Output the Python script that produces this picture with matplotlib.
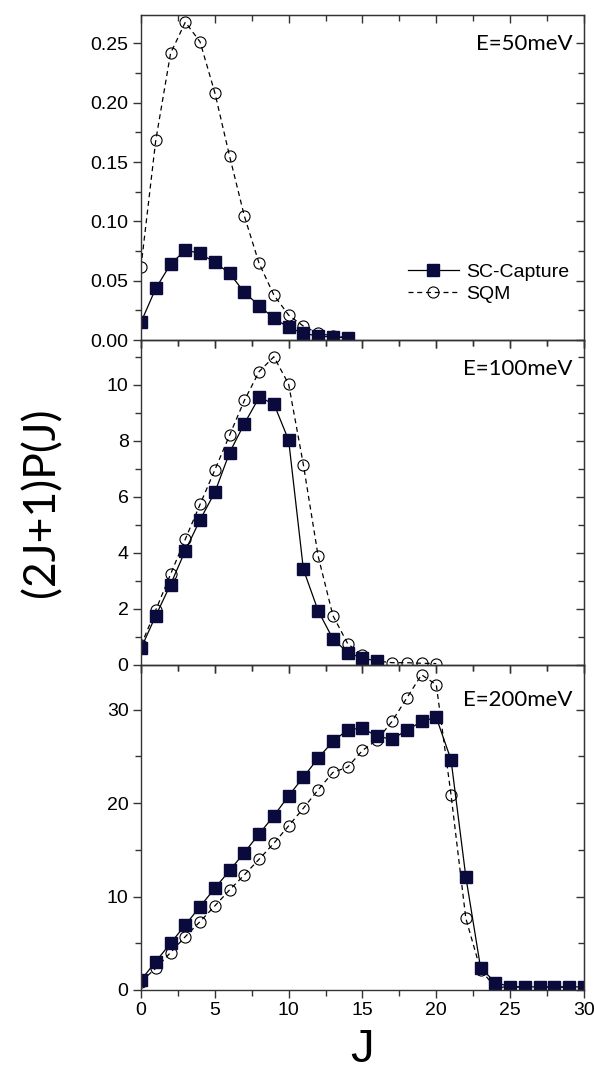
import matplotlib
matplotlib.use("Agg")
import matplotlib.pyplot as plt
from matplotlib.ticker import MultipleLocator, FormatStrFormatter
from matplotlib.lines import Line2D

# data, J = 0, 1, 2, ...
j_50 = list(range(0, 15))
sc_50 = [0.015, 0.0436, 0.0638, 0.0759, 0.073, 0.0655, 0.0562, 0.0402,
         0.029, 0.0183, 0.0107, 0.0056, 0.0034, 0.0025, 0.002]
sqm_50 = [0.0618, 0.1685, 0.2416, 0.268, 0.2514, 0.2085, 0.155, 0.1045,
          0.0646, 0.0379, 0.021, 0.0117, 0.0056, 0.0034, 0.002]

j_100_sc = list(range(0, 17))
sc_100 = [0.59, 1.76, 2.87, 4.08, 5.18, 6.16, 7.58, 8.61, 9.55, 9.32,
          8.02, 3.41, 1.93, 0.93, 0.44, 0.24, 0.14]
j_100_sqm = list(range(0, 21))
sqm_100 = [0.7, 1.96, 3.24, 4.49, 5.73, 6.96, 8.2, 9.44, 10.47, 11.0,
           10.02, 7.14, 3.88, 1.76, 0.76, 0.34, 0.14, 0.08, 0.08, 0.06, 0.05]

j_200 = list(range(0, 31))
sc_200 = [1.07, 3.04, 5.0, 6.96, 8.93, 10.89, 12.79, 14.71, 16.71, 18.64,
          20.79, 22.79, 24.82, 26.61, 27.86, 28.04, 27.14, 26.86, 27.79, 28.75,
          29.18, 24.64, 12.14, 2.39, 0.79, 0.36, 0.33, 0.33, 0.33, 0.33, 0.33]
sqm_200 = [0.9, 2.32, 4.0, 5.71, 7.32, 9.0, 10.71, 12.32, 14.0, 15.71,
           17.57, 19.46, 21.43, 23.29, 23.86, 25.64, 26.79, 28.75, 31.25, 33.75,
           32.68, 20.89, 7.68, 2.14, 0.3, 0.3, 0.3, 0.3, 0.3, 0.3, 0.3]

labels = ["E=50meV", "E=100meV", "E=200meV"]

SQ_COLOR = "#0a0a3c"
SPINE = "#333333"


def style_panel(ax, ymax, ymajor, yminor, fmt, show_x):
    ax.patch.set_visible(False)
    ax.set_xlim(0, 30)
    ax.set_ylim(0, ymax)
    ax.xaxis.set_major_locator(MultipleLocator(5))
    ax.xaxis.set_minor_locator(MultipleLocator(2.5))
    ax.yaxis.set_major_locator(MultipleLocator(ymajor))
    ax.yaxis.set_minor_locator(MultipleLocator(yminor))
    ax.yaxis.set_major_formatter(FormatStrFormatter(fmt))
    for s in ax.spines.values():
        s.set_color(SPINE)
        s.set_linewidth(1.0)
    ax.tick_params(which="both", direction="out", top=False, right=False,
                   color=SPINE, labelsize=14, pad=3,
                   labelbottom=show_x)
    ax.tick_params(which="major", length=6, width=1)
    ax.tick_params(which="minor", length=4, width=1)
    for lab in ax.get_xticklabels() + ax.get_yticklabels():
        lab.set_fontfamily("Liberation Sans")

    # inward ticks on top and right
    top = ax.secondary_xaxis("top")
    top.xaxis.set_major_locator(MultipleLocator(5))
    top.xaxis.set_minor_locator(MultipleLocator(2.5))
    top.tick_params(which="both", direction="in", labeltop=False, color=SPINE)
    top.tick_params(which="major", length=6, width=1)
    top.tick_params(which="minor", length=4, width=1)
    top.spines["top"].set_color(SPINE)
    right = ax.secondary_yaxis("right")
    right.yaxis.set_major_locator(MultipleLocator(ymajor))
    right.yaxis.set_minor_locator(MultipleLocator(yminor))
    right.tick_params(which="both", direction="in", labelright=False, color=SPINE)
    right.tick_params(which="major", length=6, width=1)
    right.tick_params(which="minor", length=4, width=1)
    right.spines["right"].set_color(SPINE)


def plot_pair(ax, jsc, sc, jsqm, sqm):
    ax.plot(jsqm, sqm, color="black", lw=0.9, ls=(0, (4, 3)),
            marker="o", ms=8, mfc="none", mec="black", mew=0.8)
    ax.plot(jsc, sc, color="black", lw=0.9, ls="-",
            marker="s", ms=8, mfc=SQ_COLOR, mec=SQ_COLOR)


fig = plt.figure(figsize=(5.94, 10.73), dpi=100)
left, width, h = 0.2374, 0.7456, 0.3029
ax1 = fig.add_axes([left, 0.6831, width, h])
ax2 = fig.add_axes([left, 0.3803, width, h])
ax3 = fig.add_axes([left, 0.0774, width, h])

plot_pair(ax1, j_50, sc_50, j_50, sqm_50)
plot_pair(ax2, j_100_sc, sc_100, j_100_sqm, sqm_100)
plot_pair(ax3, j_200, sc_200, j_200, sqm_200)

style_panel(ax1, 0.274, 0.05, 0.025, "%.2f", False)
style_panel(ax2, 11.6, 2, 1, "%d", False)
style_panel(ax3, 34.8, 10, 5, "%d", True)

for ax, lab, yy in zip([ax1, ax2, ax3], labels, [0.912, 0.912, 0.893]):
    ax.text(0.975, yy, lab, transform=ax.transAxes, ha="right", va="center",
            fontsize=16, family="Lato")

handles = [
    Line2D([], [], color="black", lw=0.9, marker="s", ms=8,
           mfc=SQ_COLOR, mec=SQ_COLOR),
    Line2D([], [], color="black", lw=0.9, ls=(0, (4, 3)), marker="o", ms=8,
           mfc="none", mec="black", mew=0.8),
]
ax1.legend(handles, ["SC-Capture", "SQM"], loc="center right",
           bbox_to_anchor=(0.985, 0.175), frameon=False, borderaxespad=0,
           handlelength=2.6, handletextpad=0.4, labelspacing=0.2,
           prop={"family": "Liberation Sans", "size": 14})

ax3.set_xlabel("J", fontsize=34, family="Liberation Sans", labelpad=6)
fig.text(0.07, 0.532, "(2J+1)P(J)", rotation=90, ha="center", va="center",
         fontsize=32, family="Lato")

fig.savefig("out.png", dpi=100)
